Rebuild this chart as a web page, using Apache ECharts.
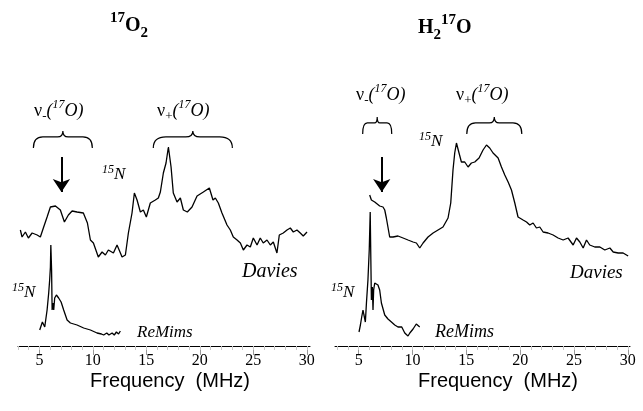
<!DOCTYPE html>
<html><head><meta charset="utf-8">
<script src="https://cdn.jsdelivr.net/npm/echarts@6/dist/echarts.min.js"></script>
<style>html,body{margin:0;padding:0;background:#fff}#c{width:643px;height:411px}</style>
</head><body><div id="c"></div>
<script>
// Tick labels (MHz)
const freqTicks = [5, 10, 15, 20, 25, 30];
const minorTicksLeft = [3,4,5,6,7,8,9,10,11,12,13,14,15,16,17,18,19,20,21,22,23,24,25,26,27,28,29,30];
const minorTicksRight = [3,4,5,6,7,8,9,10,11,12,13,14,15,16,17,18,19,20,21,22,23,24,25,26,27,28,29,30];

// 17O2 panel - Davies ENDOR
const o2DaviesFreq = [3.22,3.38,3.69,3.97,4.32,4.79,5.09,5.37,5.72,6.03,6.50,6.96,7.34,7.71,8.06,8.52,9.11,9.49,9.77,10.05,10.51,10.86,11.17,11.45,11.92,12.26,12.73,13.04,13.32,13.66,13.88,14.13,14.44,14.72,15.00,15.37,15.84,16.12,16.31,16.59,16.84,17.06,17.31,17.52,17.87,18.18,18.46,18.83,19.27,19.74,20.33,20.89,21.23,21.45,21.73,22.07,22.54,22.85,23.13,23.48,23.79,24.07,24.41,24.72,25.00,25.35,25.65,25.93,26.28,26.59,26.87,27.21,27.43,27.80,28.15,28.46,28.74,29.08,29.39,29.67,30.02];
const o2DaviesInt = [116,109,114,108,113,111,109,118,129,139,140,136,124,131,135,134,133,123,106,103,89,94,91,96,93,101,89,91,113,133,153,146,134,136,129,143,146,148,154,173,183,199,179,153,144,148,136,134,139,150,154,158,146,148,143,133,121,116,109,106,103,96,101,99,108,101,108,103,106,101,104,93,111,113,116,118,114,116,113,110,114];
// 17O2 panel - ReMims ENDOR
const o2ReMimsFreq = [5.03,5.16,5.28,5.40,5.50,5.59,5.72,5.87,5.96,6.03,6.07,6.14,6.19,6.28,6.34,6.43,6.59,6.80,7.03,7.27,7.59,7.90,8.52,9.14,9.77,10.39,10.80,11.01,11.30,11.50,11.80,12.00,12.20,12.40,12.57];
const o2ReMimsInt = [16,18,24,26,19,21,36,53,66,79,101,76,36,43,36,48,51,48,44,36,26,23,21,18,16,13,12,11,13,11,13,11,14,12,15];

// H2 17O panel - Davies ENDOR
const h2oDaviesFreq = [6.02,6.18,6.49,6.95,7.26,7.42,7.57,7.88,8.19,8.65,9.12,9.58,10.05,10.36,10.67,10.98,11.44,11.91,12.37,12.83,13.30,13.55,13.76,13.92,14.08,14.32,14.54,14.85,15.16,15.47,15.78,16.18,16.55,16.87,17.17,17.48,17.95,18.26,18.57,18.88,19.19,19.50,19.80,20.27,20.59,20.89,21.20,21.51,21.82,22.13,22.59,23.06,23.52,23.99,24.45,24.92,25.23,25.54,25.85,26.16,26.46,26.93,27.40,27.86,28.33,28.64,29.10,29.56,30.03];
const h2oDaviesInt = [151,146,144,140,139,136,128,109,109,110,108,106,104,103,98,103,109,113,116,119,128,143,176,193,203,193,184,184,179,183,184,188,196,201,198,193,188,179,171,164,156,143,129,126,124,121,123,118,119,114,113,111,108,106,108,101,108,104,98,106,101,99,99,96,98,94,93,93,90];
// H2 17O panel - ReMims ENDOR
const h2oReMimsFreq = [5.03,5.16,5.28,5.40,5.49,5.62,5.72,5.86,5.98,6.07,6.13,6.18,6.27,6.33,6.39,6.49,6.79,6.95,7.11,7.42,7.57,7.72,7.88,8.04,8.20,8.35,8.50,8.65,8.81,9.00,9.28,9.45,9.58,9.75,9.90,10.05,10.20,10.35,10.51,10.67];
const h2oReMimsInt = [14,21,29,36,31,24,43,66,96,134,86,46,59,36,56,63,61,56,43,31,30,27,28,24,25,21,22,19,18,19,13,14,10,13,14,17,18,22,21,19];

// Annotation positions (data units): braces [fStart, fEnd, intBottom, intTop], arrows [f, intFrom, intTo]
const o2Braces = [[4.44, 9.95, 198, 215], [15.65, 23.04, 198, 215]];
const h2oBraces = [[5.37, 8.07, 212, 229], [15.04, 20.15, 212, 229]];
const o2Arrow = [7.06, 189, 154];
const h2oArrow = [7.14, 189, 154];

const zip = (a, b) => a.map((v, i) => [v, b[i]]);

function braceItem(params, api) {
  const p0 = api.coord([api.value(0), api.value(2)]);
  const p1 = api.coord([api.value(1), api.value(3)]);
  const x0 = p0[0], x1 = p1[0], yb = p0[1], yt = p1[1];
  const xm = (x0 + x1) / 2, ym = yt + (yb - yt) * 0.35;
  const w = x1 - x0;
  const d = `M${x0},${yb} Q${x0},${ym} ${x0 + w * 0.16},${ym} L${xm - w * 0.09},${ym} Q${xm},${ym} ${xm},${yt} Q${xm},${ym} ${xm + w * 0.09},${ym} L${x1 - w * 0.16},${ym} Q${x1},${ym} ${x1},${yb}`;
  return { type: 'path', shape: { pathData: d }, style: { fill: 'none', stroke: '#000', lineWidth: 1.2 } };
}

const serif = 'Liberation Serif';
const lineStyle = { color: '#000', width: 1.3 };

function mainX(grid, min, max) {
  return {
    gridIndex: grid, type: 'value', min: min, max: max, position: 'bottom',
    axisLine: { show: true, lineStyle: { color: '#000', width: 1 } },
    axisTick: { show: true, length: 9, customValues: freqTicks, lineStyle: { color: '#999' } },
    axisLabel: { customValues: freqTicks, color: '#000', fontFamily: serif, fontSize: 16, margin: 7 },
    splitLine: { show: false }
  };
}
function minorX(grid, min, max, ticks) {
  return {
    gridIndex: grid, type: 'value', min: min, max: max, position: 'bottom',
    axisLine: { show: false },
    axisTick: { show: true, length: 4, customValues: ticks, lineStyle: { color: '#c8c8c8' } },
    axisLabel: { show: false }, splitLine: { show: false }
  };
}
function yAx(grid) {
  return { gridIndex: grid, type: 'value', min: 0, max: 250, show: false };
}
function arrowLine(a) {
  return {
    silent: true, symbol: ['none', 'arrow'], symbolSize: 13,
    lineStyle: { color: '#000', width: 2, type: 'solid' }, label: { show: false },
    data: [[{ coord: [a[0], a[1]] }, { coord: [a[0], a[2]] }]]
  };
}

const nuRich = {
  n: { fontFamily: serif, fontSize: 18, lineHeight: 24, color: '#000' },
  s: { fontFamily: serif, fontSize: 13, lineHeight: 13, verticalAlign: 'bottom', color: '#000' },
  i: { fontFamily: serif, fontStyle: 'italic', fontSize: 18, lineHeight: 24, color: '#000' },
  sp: { fontFamily: serif, fontStyle: 'italic', fontSize: 12, lineHeight: 12, verticalAlign: 'top', color: '#000' }
};
const nRich = {
  sp: { fontFamily: serif, fontStyle: 'italic', fontSize: 12, lineHeight: 12, verticalAlign: 'top', color: '#000' },
  i: { fontFamily: serif, fontStyle: 'italic', fontSize: 17, lineHeight: 22, color: '#000' }
};
const tRich = {
  b: { fontFamily: serif, fontWeight: 'bold', fontSize: 20, lineHeight: 30, color: '#000' },
  sp: { fontFamily: serif, fontWeight: 'bold', fontSize: 15, lineHeight: 15, verticalAlign: 'top', color: '#000' },
  sb: { fontFamily: serif, fontWeight: 'bold', fontSize: 15, lineHeight: 15, verticalAlign: 'bottom', color: '#000' }
};
function txt(left, top, text, rich, extra) {
  return { type: 'text', left: left, top: top, silent: true, style: Object.assign({ text: text, rich: rich, fill: '#000' }, extra || {}) };
}

const chart = echarts.init(document.getElementById('c'), null, { renderer: 'canvas' });
chart.setOption({
  animation: false,
  backgroundColor: '#fff',
  grid: [
    { left: 18, width: 292, top: 96, height: 250 },
    { left: 335, width: 295, top: 96, height: 250 }
  ],
  xAxis: [mainX(0, 3, 30.3), minorX(0, 3, 30.3, minorTicksLeft), mainX(1, 2.8, 30.2), minorX(1, 2.8, 30.2, minorTicksRight)],
  yAxis: [yAx(0), yAx(1)],
  series: [
    { type: 'line', xAxisIndex: 0, yAxisIndex: 0, data: zip(o2DaviesFreq, o2DaviesInt), showSymbol: false, lineStyle: lineStyle, silent: true, markLine: arrowLine(o2Arrow) },
    { type: 'line', xAxisIndex: 0, yAxisIndex: 0, data: zip(o2ReMimsFreq, o2ReMimsInt), showSymbol: false, lineStyle: lineStyle, silent: true },
    { type: 'line', xAxisIndex: 2, yAxisIndex: 1, data: zip(h2oDaviesFreq, h2oDaviesInt), showSymbol: false, lineStyle: lineStyle, silent: true, markLine: arrowLine(h2oArrow) },
    { type: 'line', xAxisIndex: 2, yAxisIndex: 1, data: zip(h2oReMimsFreq, h2oReMimsInt), showSymbol: false, lineStyle: lineStyle, silent: true },
    { type: 'custom', xAxisIndex: 0, yAxisIndex: 0, data: o2Braces, renderItem: braceItem, encode: { x: [0, 1], y: [2, 3] }, silent: true, clip: false },
    { type: 'custom', xAxisIndex: 2, yAxisIndex: 1, data: h2oBraces, renderItem: braceItem, encode: { x: [0, 1], y: [2, 3] }, silent: true, clip: false }
  ],
  graphic: [
    txt(110, 11, '{sp|17}{b|O}{sb|2}', tRich),
    txt(418, 13, '{b|H}{sb|2}{sp|17}{b|O}', tRich),
    txt(34, 99, '{n|ν}{s|-}{i|(}{sp|17}{i|O)}', nuRich),
    txt(157, 99, '{n|ν}{s|+}{i|(}{sp|17}{i|O)}', nuRich),
    txt(356, 83, '{n|ν}{s|-}{i|(}{sp|17}{i|O)}', nuRich),
    txt(456, 83, '{n|ν}{s|+}{i|(}{sp|17}{i|O)}', nuRich),
    txt(102, 164, '{sp|15}{i|N}', nRich),
    txt(419, 131, '{sp|15}{i|N}', nRich),
    txt(12, 282, '{sp|15}{i|N}', nRich),
    txt(331, 282, '{sp|15}{i|N}', nRich),
    { type: 'text', left: 242, top: 262, silent: true, style: { text: 'Davies', font: 'italic 20px "Liberation Serif"', fill: '#000' } },
    { type: 'text', left: 570, top: 263, silent: true, style: { text: 'Davies', font: 'italic 19px "Liberation Serif"', fill: '#000' } },
    { type: 'text', left: 137, top: 324, silent: true, style: { text: 'ReMims', font: 'italic 17px "Liberation Serif"', fill: '#000' } },
    { type: 'text', left: 435, top: 323, silent: true, style: { text: 'ReMims', font: 'italic 18px "Liberation Serif"', fill: '#000' } },
    { type: 'text', left: 90, top: 371, silent: true, style: { text: 'Frequency  (MHz)', font: '20px "Liberation Sans"', fill: '#000' } },
    { type: 'text', left: 418, top: 371, silent: true, style: { text: 'Frequency  (MHz)', font: '20px "Liberation Sans"', fill: '#000' } }
  ]
});
</script>
</body></html>
